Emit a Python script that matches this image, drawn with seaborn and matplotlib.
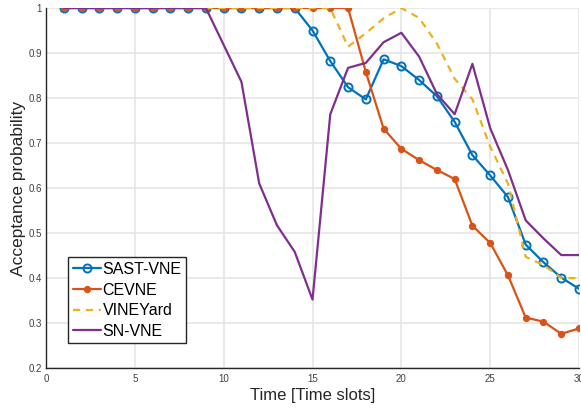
import numpy as np
import pandas as pd
import matplotlib
matplotlib.use("Agg")
import matplotlib.pyplot as plt
import seaborn as sns

# Time slots 1..30
time_slots = list(range(1, 31))

sast_vne = [1, 1, 1, 1, 1, 1, 1, 1, 1, 1, 1, 1, 1, 1, 0.950,
            0.882, 0.824, 0.797, 0.886, 0.871, 0.840, 0.804, 0.747, 0.673, 0.628,
            0.580, 0.474, 0.435, 0.401, 0.376]
cevne = [1, 1, 1, 1, 1, 1, 1, 1, 1, 1, 1, 1, 1, 1, 1,
         1, 1, 0.858, 0.732, 0.687, 0.662, 0.640, 0.620, 0.516, 0.478,
         0.406, 0.312, 0.303, 0.276, 0.288]
vineyard = [1, 1, 1, 1, 1, 1, 1, 1, 1, 1, 1, 1, 1, 1, 1,
            1, 0.914, 0.944, 0.977, 1.0, 0.978, 0.921, 0.843, 0.797, 0.692,
            0.610, 0.447, 0.429, 0.400, 0.400]
sn_vne = [1, 1, 1, 1, 1, 1, 1, 1, 1, 0.918, 0.836, 0.610, 0.517, 0.458, 0.352,
          0.764, 0.867, 0.878, 0.924, 0.945, 0.892, 0.809, 0.764, 0.876, 0.733,
          0.640, 0.528, 0.488, 0.451, 0.451]

series_names = ["SAST-VNE", "CEVNE", "VINEYard", "SN-VNE"]
x_ticks = [0, 5, 10, 15, 20, 25, 30]
y_ticks = [0.2, 0.3, 0.4, 0.5, 0.6, 0.7, 0.8, 0.9, 1.0]
y_tick_labels = ["0.2", "0.3", "0.4", "0.5", "0.6", "0.7", "0.8", "0.9", "1"]

sns.set_theme(style="whitegrid")
plt.rcParams["font.family"] = ["Liberation Sans", "DejaVu Sans"]

fig = plt.figure(figsize=(5.81, 4.09), dpi=100)
ax = fig.add_axes([0.0792, 0.1002, 0.9174, 0.8802])

styles = {
    "SAST-VNE": dict(color="#0072BD", marker="o", markersize=5.8, markerfacecolor="none",
                     markeredgecolor="#0072BD", markeredgewidth=1.4, linestyle="-"),
    "CEVNE": dict(color="#D95319", marker="o", markersize=4.5, markerfacecolor="#D95319",
                  markeredgecolor="#D95319", linestyle="-"),
    "VINEYard": dict(color="#EDB120", marker=None, linestyle=(0, (3.2, 2.6))),
    "SN-VNE": dict(color="#7E2F8E", marker=None, linestyle="-"),
}
values = {"SAST-VNE": sast_vne, "CEVNE": cevne, "VINEYard": vineyard, "SN-VNE": sn_vne}

df = pd.DataFrame({"t": time_slots, **values})

for name in series_names:
    st = dict(styles[name])
    ls = st.pop("linestyle")
    sns.lineplot(data=df, x="t", y=name, ax=ax, label=name, linewidth=1.6,
                 linestyle=ls, **st)

ax.set_xlim(0, 30)
ax.set_ylim(0.2, 1.0)
ax.set_xticks(x_ticks)
ax.set_xticklabels([str(v) for v in x_ticks])
ax.set_yticks(y_ticks)
ax.set_yticklabels(y_tick_labels)

ax.grid(True, color="#e5e5e5", linewidth=1.2)
ax.set_axisbelow(True)
for side in ["top", "right"]:
    ax.spines[side].set_visible(False)
for side in ["left", "bottom"]:
    ax.spines[side].set_visible(True)
    ax.spines[side].set_color("#262626")
    ax.spines[side].set_linewidth(1.0)
ax.set_facecolor("white")

ax.tick_params(axis="both", direction="in", length=3.5, width=1.0, color="#262626",
               labelsize=7, labelcolor="#404040", pad=3)
ax.tick_params(axis="x", pad=4)

ax.set_xlabel("Time [Time slots]", fontsize=12, color="#262626", labelpad=3)
ax.set_ylabel("Acceptance probability", fontsize=12.5, color="#262626", labelpad=2)

leg = ax.legend(loc="upper left", bbox_to_anchor=(0.041, 0.308), borderaxespad=0,
                fontsize=11.5, frameon=True, fancybox=False, handlelength=1.75,
                handletextpad=0.12, labelspacing=0.35, borderpad=0.3)
leg.get_frame().set_edgecolor("#262626")
leg.get_frame().set_linewidth(1.0)
leg.get_frame().set_alpha(1.0)
for txt in leg.get_texts():
    txt.set_color("black")

fig.savefig("out.png", dpi=100)
